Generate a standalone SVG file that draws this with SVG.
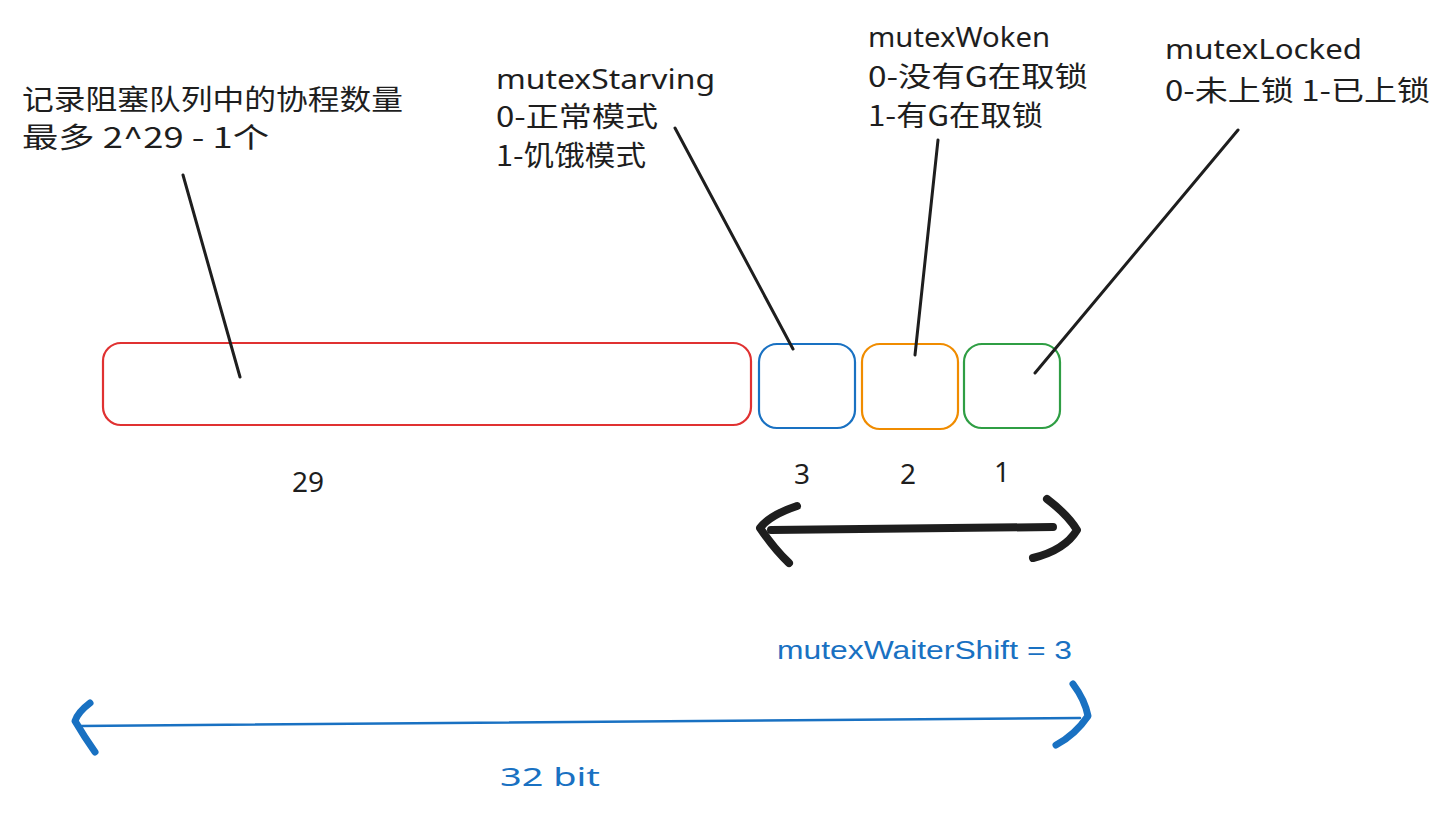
<svg xmlns="http://www.w3.org/2000/svg" width="1450" height="818" viewBox="0 0 1450 818">
<style>
.t{font-family:"Noto Sans","Noto Sans CJK SC",sans-serif;font-size:28px;fill:#1e1e1e}
.c{font-family:"Noto Sans CJK SC","Noto Sans",sans-serif;font-size:28px;fill:#1e1e1e}
.b{font-family:"Liberation Sans","Noto Sans",sans-serif;font-size:26px;fill:#1971c2}
.box{fill:none;stroke-width:2.2}
.ln{stroke:#1e1e1e;stroke-width:3;stroke-linecap:round;fill:none}
</style>
<rect width="1450" height="818" fill="#ffffff"/>
<g id="label-waiters">
<text class="c" x="22" y="110" textLength="381" lengthAdjust="spacingAndGlyphs">记录阻塞队列中的协程数量</text>
<text class="c" x="22" y="148" textLength="247" lengthAdjust="spacingAndGlyphs">最多 2^29 - 1个</text>
</g>
<g id="label-starving">
<text class="t" x="496" y="89" textLength="219" lengthAdjust="spacingAndGlyphs">mutexStarving</text>
<text class="c" x="496" y="127" textLength="162" lengthAdjust="spacingAndGlyphs">0-正常模式</text>
<text class="c" x="496" y="166" textLength="150" lengthAdjust="spacingAndGlyphs">1-饥饿模式</text>
</g>
<g id="label-woken">
<text class="t" x="868" y="47" textLength="182" lengthAdjust="spacingAndGlyphs">mutexWoken</text>
<text class="c" x="868" y="87" textLength="220" lengthAdjust="spacingAndGlyphs">0-没有G在取锁</text>
<text class="c" x="868" y="126" textLength="175" lengthAdjust="spacingAndGlyphs">1-有G在取锁</text>
</g>
<g id="label-locked">
<text class="t" x="1165" y="59" textLength="197" lengthAdjust="spacingAndGlyphs">mutexLocked</text>
<text class="c" x="1165" y="101" textLength="265" lengthAdjust="spacingAndGlyphs">0-未上锁 1-已上锁</text>
</g>
<g id="box-waiters"><rect class="box" x="103" y="343" width="648" height="82" rx="18" stroke="#e03131"/></g>
<g id="box-starving"><rect class="box" x="759" y="344" width="96" height="84" rx="18" stroke="#1971c2"/></g>
<g id="box-woken"><rect class="box" x="862" y="344" width="96" height="85" rx="18" stroke="#f08c00"/></g>
<g id="box-locked"><rect class="box" x="964" y="344" width="96" height="84" rx="18" stroke="#2f9e44"/></g>
<g id="bit-labels">
<text class="t" x="292" y="492" font-size="24">29</text>
<text class="t" x="794" y="484" font-size="24">3</text>
<text class="t" x="900" y="484" font-size="24">2</text>
<text class="t" x="994" y="482" font-size="24">1</text>
</g>
<g id="connectors">
<line class="ln" x1="183" y1="175" x2="240" y2="377"/>
<line class="ln" x1="675" y1="128" x2="793" y2="349"/>
<line class="ln" x1="938" y1="140" x2="915" y2="355"/>
<line class="ln" x1="1238" y1="130" x2="1035" y2="373"/>
<g stroke="#1e1e1e" stroke-width="8" stroke-linecap="round" stroke-linejoin="round" fill="none">
<path d="M771 530 L1053 527"/>
<path d="M797 506 Q770 515 760 528 Q775 550 789 563"/>
<path d="M1047 499 Q1068 515 1077 530 Q1065 550 1033 558"/>
</g>
<g stroke="#1971c2" stroke-linecap="round" stroke-linejoin="round" fill="none">
<path d="M80 726 L1080 718" stroke-width="2.5"/>
<path d="M90 703 Q78 712 75 721 Q85 738 95 752" stroke-width="7"/>
<path d="M1073 684 Q1085 700 1088 716 Q1075 735 1056 745" stroke-width="7"/>
</g>
</g>
<g id="notes">
<text class="b" x="777" y="659" textLength="295" lengthAdjust="spacingAndGlyphs">mutexWaiterShift = 3</text>
<text class="b" x="500" y="786" textLength="100" lengthAdjust="spacingAndGlyphs" style="font-family:'Noto Sans',sans-serif">32 bit</text>
</g>
</svg>
